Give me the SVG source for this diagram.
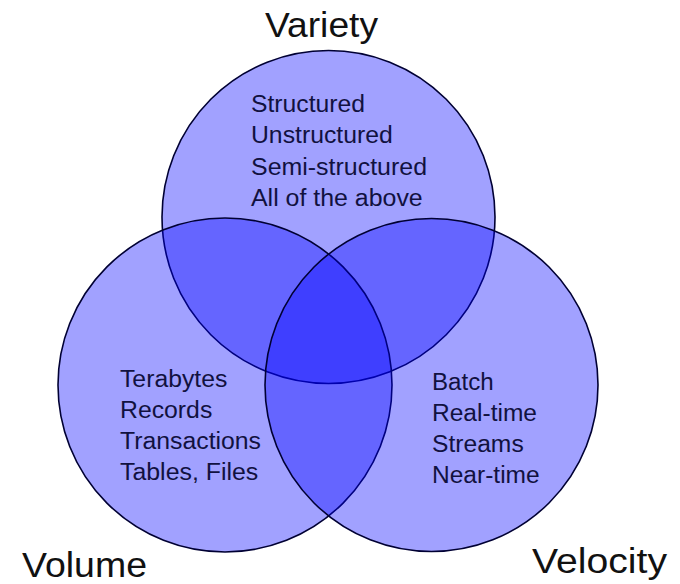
<svg xmlns="http://www.w3.org/2000/svg" width="680" height="584" viewBox="0 0 680 584">
<style>
.c{fill:#0000ff;fill-opacity:0.37;stroke:#000033;stroke-width:1.6}
.t{font-family:"Liberation Sans",Arial,sans-serif;font-size:23px;fill:#111140}
.l{font-family:"Liberation Sans",Arial,sans-serif;font-size:35px;fill:#111111}
</style>
<rect width="680" height="584" fill="#ffffff"/>
<g id="variety">
<circle class="c" cx="328.5" cy="217" r="166.5"/>
<text class="l" x="265" y="37" textLength="113" lengthAdjust="spacingAndGlyphs">Variety</text>
<text class="t" x="251" y="112" textLength="114" lengthAdjust="spacingAndGlyphs">Structured</text>
<text class="t" x="251" y="143" textLength="141.7" lengthAdjust="spacingAndGlyphs">Unstructured</text>
<text class="t" x="251" y="175" textLength="176" lengthAdjust="spacingAndGlyphs">Semi-structured</text>
<text class="t" x="251" y="206" textLength="171.7" lengthAdjust="spacingAndGlyphs">All of the above</text>
</g>
<g id="volume">
<circle class="c" cx="225" cy="385" r="167"/>
<text class="l" x="22" y="577" font-size="34" textLength="125" lengthAdjust="spacingAndGlyphs">Volume</text>
<text class="t" x="120" y="387" textLength="107.3" lengthAdjust="spacingAndGlyphs">Terabytes</text>
<text class="t" x="120" y="418" textLength="92.3" lengthAdjust="spacingAndGlyphs">Records</text>
<text class="t" x="120" y="449" textLength="141" lengthAdjust="spacingAndGlyphs">Transactions</text>
<text class="t" x="120" y="480" textLength="138.3" lengthAdjust="spacingAndGlyphs">Tables, Files</text>
</g>
<g id="velocity">
<circle class="c" cx="431.5" cy="385" r="166.5"/>
<text class="l" x="532" y="573" textLength="135" lengthAdjust="spacingAndGlyphs">Velocity</text>
<text class="t" x="432" y="390" textLength="61.7" lengthAdjust="spacingAndGlyphs">Batch</text>
<text class="t" x="432" y="421" textLength="105" lengthAdjust="spacingAndGlyphs">Real-time</text>
<text class="t" x="432" y="452" textLength="91.7" lengthAdjust="spacingAndGlyphs">Streams</text>
<text class="t" x="432" y="483" textLength="107.7" lengthAdjust="spacingAndGlyphs">Near-time</text>
</g>
</svg>
